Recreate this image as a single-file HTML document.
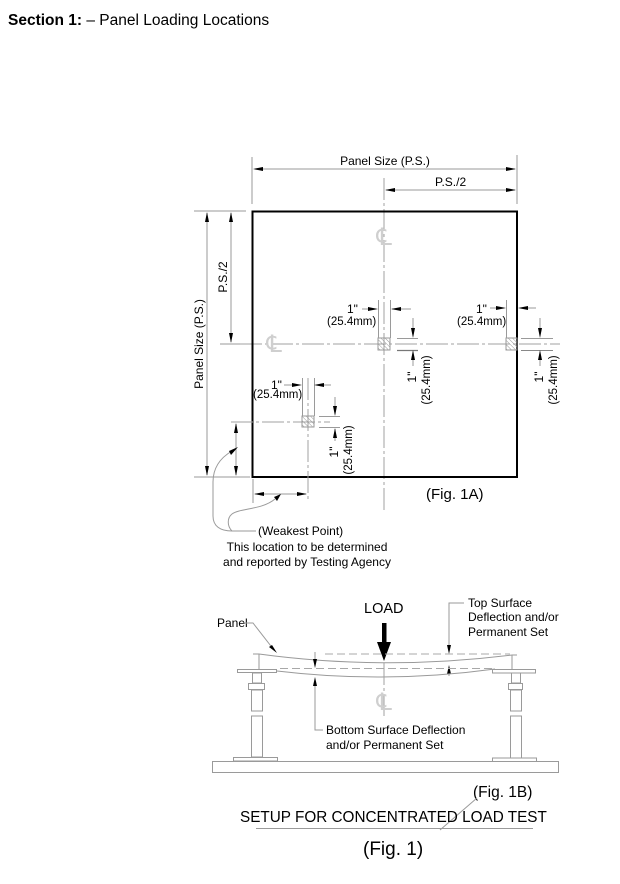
<!DOCTYPE html>
<html><head><meta charset="utf-8"><style>
html,body{margin:0;padding:0;background:#fff;}
svg{display:block;}
text{font-family:"Liberation Sans",Arial,sans-serif;fill:#000;}
.g{stroke:#9a9a9a;stroke-width:1;fill:none;}
.c{stroke:#a0a0a0;stroke-width:1;fill:none;stroke-dasharray:22 3 3 3;}
.d{stroke:#a8a8a8;stroke-width:1;fill:none;stroke-dasharray:8 4;}
.a{fill:#000;stroke:none;}
.t12{font-size:12px;}
.t11{font-size:11.5px;}
.cl{font-family:"DejaVu Sans",sans-serif;font-size:24px;fill:#cfcfcf;font-style:italic;}
</style></head><body>
<svg width="620" height="884" viewBox="0 0 620 884" xmlns="http://www.w3.org/2000/svg">
<defs>
<pattern id="h" width="3" height="3" patternUnits="userSpaceOnUse" patternTransform="rotate(-45)">
<line x1="0" y1="0" x2="0" y2="3" stroke="#999" stroke-width="1"/>
</pattern>
</defs>

<text x="8" y="25" style="font-size:15.5px"><tspan font-weight="bold">Section 1:</tspan> – Panel Loading Locations</text>

<!-- ===== FIG 1A ===== -->
<line class="g" x1="252" y1="157" x2="252" y2="204"/>
<line class="g" x1="517" y1="155" x2="517" y2="204"/>
<line class="g" x1="255" y1="169" x2="515" y2="169"/>
<polygon class="a" points="253,169 263,167 263,171"/>
<polygon class="a" points="516,169 506,167 506,171"/>
<text class="t12" x="385" y="165" text-anchor="middle">Panel Size (P.S.)</text>

<line class="g" x1="386" y1="190" x2="515" y2="190"/>
<polygon class="a" points="385,190 395,188 395,192"/>
<polygon class="a" points="516,190 506,188 506,192"/>
<text class="t12" x="435" y="186">P.S./2</text>

<line class="c" x1="384" y1="178" x2="384" y2="512"/>
<line class="c" x1="240" y1="344" x2="560" y2="344"/>

<line class="g" x1="194" y1="211" x2="246" y2="211"/>
<line class="g" x1="194" y1="477" x2="250" y2="477"/>
<line class="g" x1="220" y1="344" x2="240" y2="344"/>
<line class="g" x1="207" y1="213" x2="207" y2="475"/>
<polygon class="a" points="207,212 205,222 209,222"/>
<polygon class="a" points="207,476 205,466 209,466"/>
<text class="t12" transform="translate(203,344) rotate(-90)" text-anchor="middle">Panel Size (P.S.)</text>
<line class="g" x1="231" y1="213" x2="231" y2="342"/>
<polygon class="a" points="231,212 229,222 233,222"/>
<polygon class="a" points="231,343 229,333 233,333"/>
<text class="t12" transform="translate(227,277) rotate(-90)" text-anchor="middle">P.S./2</text>

<rect x="252.5" y="211.5" width="264.5" height="265.5" fill="none" stroke="#000" stroke-width="2"/>

<text class="cl" x="384" y="245" text-anchor="middle">℄</text>
<text class="cl" x="274" y="352" text-anchor="middle">℄</text>

<!-- center square -->
<rect x="378" y="338" width="12" height="12" fill="url(#h)" stroke="#999" stroke-width="1"/>
<line class="g" x1="378.5" y1="300" x2="378.5" y2="338"/>
<line class="g" x1="390.5" y1="300" x2="390.5" y2="338"/>
<line class="g" x1="362" y1="309" x2="376" y2="309"/>
<polygon class="a" points="378,309 368,307 368,311"/>
<line class="g" x1="392" y1="309" x2="411" y2="309"/>
<polygon class="a" points="391,309 401,307 401,311"/>
<text class="t12" x="347" y="313">1"</text>
<text class="t11" x="327" y="325">(25.4mm)</text>
<line class="g" x1="397" y1="338.5" x2="418" y2="338.5"/>
<line x1="397" y1="350.5" x2="418" y2="350.5" stroke="#777" stroke-width="1.3"/>
<line class="g" x1="413" y1="318" x2="413" y2="336"/>
<polygon class="a" points="413,338 411,328 415,328"/>
<line class="g" x1="413" y1="352" x2="413" y2="366"/>
<polygon class="a" points="413,350 411,360 415,360"/>
<text class="t12" transform="translate(416,377) rotate(-90)" text-anchor="middle">1"</text>
<text class="t11" transform="translate(430,380) rotate(-90)" text-anchor="middle">(25.4mm)</text>

<!-- right square -->
<rect x="506" y="338" width="11" height="12" fill="url(#h)" stroke="#999" stroke-width="1"/>
<line class="g" x1="506.5" y1="300" x2="506.5" y2="338"/>
<line class="g" x1="490" y1="308" x2="504" y2="308"/>
<polygon class="a" points="506,308 496,306 496,310"/>
<line class="g" x1="520" y1="308" x2="536" y2="308"/>
<polygon class="a" points="518,308 528,306 528,310"/>
<text class="t12" x="476" y="313">1"</text>
<text class="t11" x="457" y="325">(25.4mm)</text>
<line class="g" x1="521" y1="338.5" x2="553" y2="338.5"/>
<line x1="521" y1="350.5" x2="553" y2="350.5" stroke="#888" stroke-width="1"/>
<line class="g" x1="540" y1="318" x2="540" y2="336"/>
<polygon class="a" points="540,338 538,328 542,328"/>
<line class="g" x1="540" y1="352" x2="540" y2="366"/>
<polygon class="a" points="540,350 538,360 542,360"/>
<text class="t12" transform="translate(543,377) rotate(-90)" text-anchor="middle">1"</text>
<text class="t11" transform="translate(557,380) rotate(-90)" text-anchor="middle">(25.4mm)</text>

<!-- lower-left square -->
<line class="c" x1="231" y1="422" x2="330" y2="422"/>
<line class="c" x1="308" y1="378" x2="308" y2="502"/>
<rect x="302" y="416" width="12" height="11" fill="url(#h)" stroke="#999" stroke-width="1"/>
<line class="g" x1="302.5" y1="378" x2="302.5" y2="416"/>
<line class="g" x1="314.5" y1="378" x2="314.5" y2="416"/>
<line class="g" x1="284" y1="385" x2="300" y2="385"/>
<polygon class="a" points="302,385 292,383 292,387"/>
<line class="g" x1="316" y1="385" x2="331" y2="385"/>
<polygon class="a" points="314,385 324,383 324,387"/>
<text class="t12" x="271" y="389">1"</text>
<text class="t11" x="253" y="398">(25.4mm)</text>
<line class="g" x1="319" y1="416.5" x2="340" y2="416.5"/>
<line class="g" x1="319" y1="427.5" x2="340" y2="427.5"/>
<line class="g" x1="335" y1="397" x2="335" y2="414"/>
<polygon class="a" points="335,416 333,406 337,406"/>
<line class="g" x1="335" y1="429" x2="335" y2="441"/>
<polygon class="a" points="335,428 333,438 337,438"/>
<text class="t12" transform="translate(338,452) rotate(-90)" text-anchor="middle">1"</text>
<text class="t11" transform="translate(352,450) rotate(-90)" text-anchor="middle">(25.4mm)</text>

<!-- weakest point dims -->
<line class="g" x1="236" y1="424" x2="236" y2="475"/>
<polygon class="a" points="236,423 234,433 238,433"/>
<polygon class="a" points="236,476 234,466 238,466"/>
<line class="g" x1="253" y1="479" x2="253" y2="503"/>
<line class="g" x1="255" y1="494" x2="306" y2="494"/>
<polygon class="a" points="254,494 264,492 264,496"/>
<polygon class="a" points="307,494 297,492 297,496"/>
<path class="g" d="M232,451 C220,458 213,468 213,482 L213,516 C213,526 220,531 232,531 L256,531"/>
<polygon class="a" points="238,447 229,451 231,455"/>
<path class="g" d="M275,499 C262,510 240,508 232,514 C227,518 227,526 232,531"/>
<polygon class="a" points="281,494 274,497 277,501"/>

<text class="t12" x="258" y="535">(Weakest Point)</text>
<text class="t12" x="307" y="551" text-anchor="middle">This location to be determined</text>
<text class="t12" x="307" y="566" text-anchor="middle">and reported by Testing Agency</text>

<text x="426" y="499" style="font-size:15px">(Fig. 1A)</text>

<!-- ===== FIG 1B ===== -->
<text x="364" y="613" style="font-size:14.5px">LOAD</text>
<rect x="382" y="623" width="4.5" height="22" fill="#000"/>
<polygon class="a" points="377,642 391,642 384,661"/>

<text class="t12" x="217" y="627">Panel</text>
<polyline class="g" points="243,623 253,623 274,650"/>
<polygon class="a" points="277,653 269,647 272,645"/>

<text class="t12" x="468" y="607">Top Surface</text>
<text class="t12" x="468" y="621">Deflection and/or</text>
<text class="t12" x="468" y="636">Permanent Set</text>
<polyline class="g" points="464,603 449,603 449,651"/>
<polygon class="a" points="449,654 447,645 451,645"/>
<line class="g" x1="449" y1="667" x2="449" y2="676"/>
<polygon class="a" points="449,665 447,674 451,674"/>

<line class="g" x1="253" y1="654" x2="259" y2="654"/>
<path class="g" d="M259,654 Q384,671 512,655"/>
<line class="g" x1="512" y1="655" x2="517" y2="655"/>
<line class="g" x1="259" y1="654" x2="259" y2="669"/>
<line class="g" x1="512" y1="655" x2="512" y2="669"/>
<path class="g" d="M277,671 Q385,684 495,669"/>
<line class="d" x1="325" y1="654" x2="510" y2="654"/>
<line class="d" x1="280" y1="668.5" x2="493" y2="668.5"/>

<line class="g" x1="315" y1="652" x2="315" y2="666"/>
<polygon class="a" points="315,668 313,659 317,659"/>
<polyline class="g" points="315,680 315,730 323,730"/>
<polygon class="a" points="315,677 313,686 317,686"/>

<text class="t12" x="326" y="734">Bottom Surface Deflection</text>
<text class="t12" x="326" y="749">and/or Permanent Set</text>

<line class="c" x1="384" y1="663" x2="384" y2="717"/>
<text class="cl" x="384" y="710" text-anchor="middle">℄</text>

<rect x="237.5" y="669.5" width="39" height="3" class="g"/>
<rect x="492.5" y="669.5" width="43" height="3.5" class="g"/>
<rect x="252.5" y="673" width="9" height="10" class="g"/>
<rect x="248.5" y="683.5" width="16" height="6" class="g"/>
<rect x="251.5" y="690" width="11" height="21" class="g"/>
<rect x="251.5" y="716" width="11" height="41" class="g"/>
<rect x="233.5" y="757.5" width="44" height="3.5" class="g"/>
<rect x="511.5" y="673" width="9" height="10" class="g"/>
<rect x="508.5" y="683.5" width="14" height="6" class="g"/>
<rect x="510.5" y="690" width="11" height="21" class="g"/>
<rect x="510.5" y="716" width="11" height="42" class="g"/>
<rect x="492.5" y="758" width="44" height="3.5" class="g"/>
<rect x="212.5" y="761.5" width="346" height="11" class="g"/>

<text x="473" y="797" style="font-size:15.5px">(Fig. 1B)</text>
<line class="g" x1="477" y1="798" x2="440" y2="830"/>
<text x="240" y="822" style="font-size:15.3px">SETUP FOR CONCENTRATED LOAD TEST</text>
<line class="g" x1="256" y1="828.5" x2="533" y2="828.5"/>
<text x="363" y="855" style="font-size:19px">(Fig. 1)</text>
</svg>
</body></html>
